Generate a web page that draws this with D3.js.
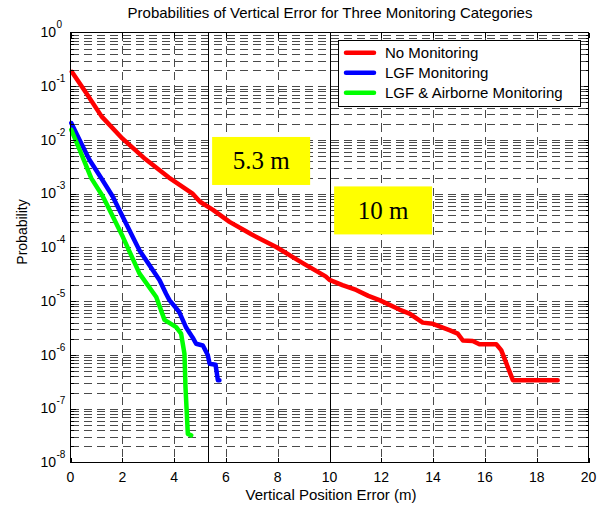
<!DOCTYPE html>
<html>
<head>
<meta charset="utf-8">
<script src="https://cdn.jsdelivr.net/npm/d3@7"></script>
<style>
  html, body { margin: 0; padding: 0; background: #fff; }
  svg { display: block; }
  text { font-family: "Liberation Sans", Arial, Helvetica, sans-serif; fill: #000; }
</style>
</head>
<body>
<svg id="chart" width="608" height="506"></svg>
<script>
// Vertical position error (m) and exceedance probability for each monitoring category
const noMonX = [0.05, 0.6, 1.2, 2.0, 2.9, 3.8, 4.7, 5.0, 5.5, 6.14, 7.0, 7.94, 9.0, 9.85, 10.0, 10.5, 11.03, 11.5, 11.93, 12.7, 13.09, 13.6, 13.99, 14.63, 14.95, 15.15, 15.53, 15.79, 16.44, 16.63, 17.08, 18.81];
const noMonP = [0.186, 0.0759, 0.0275, 0.0107, 4.37e-3, 2.0e-3, 1.02e-3, 7.1e-4, 5.0e-4, 3.0e-4, 1.74e-4, 1.02e-4, 5.0e-5, 2.9e-5, 2.5e-5, 2.0e-5, 1.62e-5, 1.26e-5, 1.05e-5, 7.0e-6, 5.9e-6, 4.0e-6, 3.8e-6, 2.9e-6, 2.5e-6, 1.86e-6, 1.82e-6, 1.58e-6, 1.58e-6, 1.23e-6, 3.4e-7, 3.4e-7];

const lgfX = [0.03, 0.35, 0.73, 1.19, 1.63, 2.02, 2.66, 3.44, 3.69, 3.82, 4.2, 4.47, 4.72, 4.85, 5.11, 5.30, 5.37, 5.6, 5.69, 5.75];
const lgfP = [0.0207, 0.01, 4.3e-3, 1.95e-3, 8.9e-4, 3.7e-4, 8.9e-5, 2.45e-5, 1.38e-5, 1.05e-5, 6.3e-6, 3.2e-6, 2.1e-6, 1.62e-6, 1.5e-6, 1.0e-6, 6.9e-7, 6.6e-7, 3.4e-7, 3.4e-7];

const airX = [0.03, 0.35, 0.8, 1.25, 1.51, 2.02, 2.66, 3.31, 3.63, 4.08, 4.27, 4.40, 4.44, 4.53, 4.66];
const airP = [0.0155, 6.6e-3, 1.95e-3, 8.9e-4, 5.0e-4, 1.58e-4, 3.3e-5, 1.2e-5, 4.5e-6, 3.3e-6, 2.5e-6, 1.05e-6, 2.5e-7, 3.4e-8, 3.2e-8];

const seriesNames = ["No Monitoring", "LGF Monitoring", "LGF & Airborne Monitoring"];
const seriesColors = ["#ff0000", "#0000ff", "#00ff00"];

const xTicks = [0, 2, 4, 6, 8, 10, 12, 14, 16, 18, 20];
const yExponents = [0, -1, -2, -3, -4, -5, -6, -7, -8];

// Reference error bounds marked on the plot
const boundValues = [5.3, 10];
const boundLabels = ["5.3 m", "10 m"];

const titleText = "Probabilities of Vertical Error for Three Monitoring Categories";
const xLabelText = "Vertical Position Error (m)";
const yLabelText = "Probability";

// ---- layout ----
const svg = d3.select("#chart");
const plotL = 70.5, plotR = 588.5, plotT = 32.5, plotB = 462.5;

const x = d3.scaleLinear().domain([0, 20]).range([plotL, plotR]);
const y = d3.scaleLog().domain([1e-8, 1]).range([plotB, plotT]);

// ---- grid ----
const grid = svg.append("g")
  .attr("stroke", "#4a4a4a")
  .attr("stroke-width", 1)
  .attr("stroke-dasharray", "8,5")
  .attr("shape-rendering", "crispEdges");

const minorVals = [];
for (let e = -8; e < 0; e++) {
  for (let k = 1; k <= 9; k++) {
    const v = k * Math.pow(10, e);
    if (v > 1e-8 && v < 1) minorVals.push(v);
  }
}
grid.selectAll("line.h").data(minorVals).join("line")
  .attr("class", "h")
  .attr("x1", plotL).attr("x2", plotR)
  .attr("y1", d => Math.round(y(d)) + 0.5).attr("y2", d => Math.round(y(d)) + 0.5);

grid.selectAll("line.v").data(xTicks.filter(d => d > 0 && d < 20)).join("line")
  .attr("class", "v")
  .attr("y1", plotT).attr("y2", plotB)
  .attr("x1", d => Math.round(x(d)) + 0.5).attr("x2", d => Math.round(x(d)) + 0.5);

// ---- bound lines ----
svg.append("g").selectAll("line").data(boundValues).join("line")
  .attr("x1", d => Math.round(x(d)) + 0.5).attr("x2", d => Math.round(x(d)) + 0.5)
  .attr("y1", plotT).attr("y2", plotB)
  .attr("stroke", "#000").attr("stroke-width", 1)
  .attr("shape-rendering", "crispEdges");

// ---- bound label boxes ----
const boxCenters = [[7.36, Math.pow(10, -2.39)], [12.07, Math.pow(10, -3.31)]];
const boxW = 98, boxH = 48;
const boxes = svg.append("g");
boundLabels.forEach((lab, i) => {
  const cx = x(boxCenters[i][0]), cy = y(boxCenters[i][1]);
  boxes.append("rect")
    .attr("x", cx - boxW / 2).attr("y", cy - boxH / 2)
    .attr("width", boxW).attr("height", boxH)
    .attr("fill", "#ffff00");
  boxes.append("text")
    .attr("x", cx).attr("y", cy + 8.5)
    .attr("text-anchor", "middle")
    .style("font-family", "'Liberation Serif', 'Times New Roman', serif")
    .style("font-size", "25px")
    .text(lab);
});

// ---- curves ----
const line = d3.line().x(d => x(d[0])).y(d => y(d[1]));
const series = [
  d3.zip(noMonX, noMonP),
  d3.zip(lgfX, lgfP),
  d3.zip(airX, airP)
];
svg.append("g").selectAll("path").data(series).join("path")
  .attr("d", line)
  .attr("fill", "none")
  .attr("stroke", (d, i) => seriesColors[i])
  .attr("stroke-width", 4.5)
  .attr("stroke-linejoin", "round")
  .attr("stroke-linecap", "round");

// ---- axes box and ticks ----
const axes = svg.append("g").attr("stroke", "#000").attr("stroke-width", 1)
  .attr("shape-rendering", "crispEdges");
axes.append("rect")
  .attr("x", plotL).attr("y", plotT)
  .attr("width", plotR - plotL).attr("height", plotB - plotT)
  .attr("fill", "none");

const majorLen = 5, minorLen = 3;
xTicks.forEach(t => {
  const px = Math.round(x(t)) + 0.5;
  axes.append("line").attr("x1", px).attr("x2", px).attr("y1", plotB).attr("y2", plotB - majorLen);
  axes.append("line").attr("x1", px).attr("x2", px).attr("y1", plotT).attr("y2", plotT + majorLen);
});
minorVals.forEach(v => {
  const py = Math.round(y(v)) + 0.5;
  const isMajor = Math.abs(Math.log10(v) - Math.round(Math.log10(v))) < 1e-9;
  const len = isMajor ? majorLen : minorLen;
  axes.append("line").attr("x1", plotL).attr("x2", plotL + len).attr("y1", py).attr("y2", py);
  axes.append("line").attr("x1", plotR).attr("x2", plotR - len).attr("y1", py).attr("y2", py);
});

// x tick labels
svg.append("g").selectAll("text").data(xTicks).join("text")
  .attr("x", d => x(d)).attr("y", plotB + 19.5)
  .attr("text-anchor", "middle")
  .style("font-size", "14px")
  .text(d => d);

// y tick labels: 10 with superscript exponent
const yl = svg.append("g").selectAll("g").data(yExponents).join("g")
  .attr("transform", d => `translate(0,${y(Math.pow(10, d))})`);
yl.append("text")
  .attr("x", 56).attr("y", 4.5)
  .attr("text-anchor", "end")
  .style("font-size", "14px")
  .text("10");
yl.append("text")
  .attr("x", 56.5).attr("y", -4.5)
  .style("font-size", "10px")
  .text(d => d === 0 ? "0" : "-" + Math.abs(d));

// ---- title and axis labels ----
svg.append("text")
  .attr("x", 330).attr("y", 18)
  .attr("text-anchor", "middle")
  .style("font-size", "15px")
  .text(titleText);

svg.append("text")
  .attr("x", 331).attr("y", 500)
  .attr("text-anchor", "middle")
  .style("font-size", "15px")
  .text(xLabelText);

svg.append("text")
  .attr("transform", "translate(27,232) rotate(-90)")
  .attr("text-anchor", "middle")
  .style("font-size", "14px")
  .text(yLabelText);

// ---- legend ----
const lg = svg.append("g");
lg.append("rect")
  .attr("x", 338.5).attr("y", 40.5)
  .attr("width", 242).attr("height", 66)
  .attr("fill", "#fff").attr("stroke", "#000").attr("stroke-width", 1)
  .attr("shape-rendering", "crispEdges");
seriesNames.forEach((name, i) => {
  const ly = 52.7 + i * 20;
  lg.append("line")
    .attr("x1", 346).attr("x2", 374)
    .attr("y1", ly).attr("y2", ly)
    .attr("stroke", seriesColors[i]).attr("stroke-width", 4.5)
    .attr("stroke-linecap", "round");
  lg.append("text")
    .attr("x", 385).attr("y", ly + 5.5)
    .style("font-size", "15px")
    .text(name);
});
</script>
</body>
</html>
